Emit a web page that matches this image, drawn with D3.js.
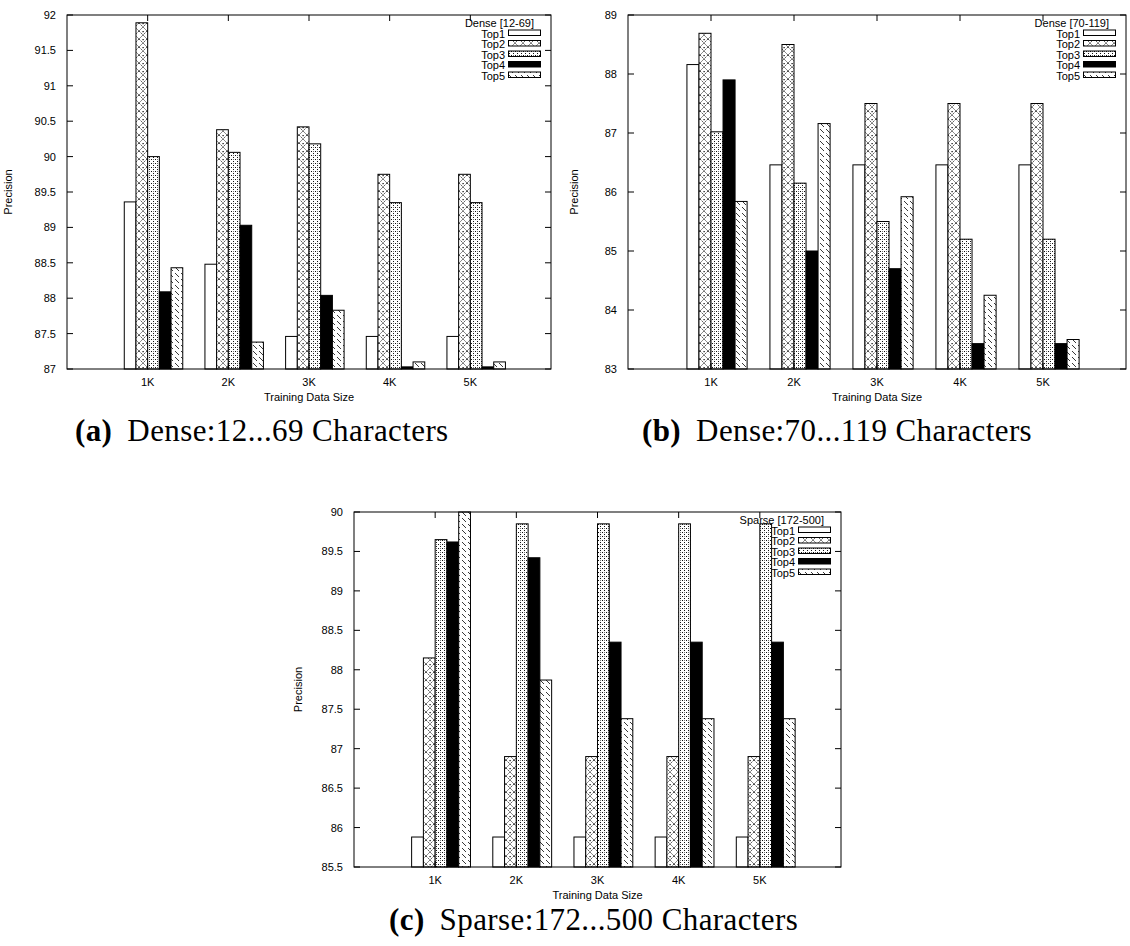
<!DOCTYPE html>
<html>
<head>
<meta charset="utf-8">
<script src="https://cdn.jsdelivr.net/npm/d3@7"></script>
<style>
  body { margin: 0; background: #fff; }
  svg text { font-family: "Liberation Sans", Arial, sans-serif; }
  .cap { font-family: "Liberation Serif", "DejaVu Serif", serif !important; }
</style>
</head>
<body>
<svg id="fig" width="1130" height="946"></svg>
<script>
var categories = ["1K", "2K", "3K", "4K", "5K"];
var seriesNames = ["Top1", "Top2", "Top3", "Top4", "Top5"];

// rows = Top1..Top5, columns = 1K..5K
var denseSmall = [
	[89.36, 88.48, 87.46, 87.46, 87.46],
	[91.89, 90.38, 90.42, 89.75, 89.75],
	[90.00, 90.06, 90.18, 89.35, 89.35],
	[88.09, 89.03, 88.04, 87.03, 87.03],
	[88.43, 87.38, 87.83, 87.10, 87.10]
];
var denseLarge = [
	[88.16, 86.46, 86.46, 86.46, 86.46],
	[88.69, 88.50, 87.50, 87.50, 87.50],
	[87.02, 86.15, 85.50, 85.20, 85.20],
	[87.90, 85.00, 84.70, 83.43, 83.43],
	[85.84, 87.16, 85.92, 84.25, 83.50]
];
var sparse = [
	[85.88, 85.88, 85.88, 85.88, 85.88],
	[88.15, 86.90, 86.90, 86.90, 86.90],
	[89.65, 89.85, 89.85, 89.85, 89.85],
	[89.62, 89.42, 88.35, 88.35, 88.35],
	[90.00, 87.87, 87.38, 87.38, 87.38]
];
var ticksA = [87, 87.5, 88, 88.5, 89, 89.5, 90, 90.5, 91, 91.5, 92];
var ticksB = [83, 84, 85, 86, 87, 88, 89];
var ticksC = [85.5, 86, 86.5, 87, 87.5, 88, 88.5, 89, 89.5, 90];

var svg = d3.select("#fig");
var defs = svg.append("defs");

// fill patterns, one per series
var p2 = defs.append("pattern").attr("id", "pat1").attr("patternUnits", "userSpaceOnUse")
	.attr("width", 8).attr("height", 8);
p2.append("rect").attr("width", 8).attr("height", 8).attr("fill", "#fff");
p2.append("path").attr("d", "M0,0L8,8M8,0L0,8").attr("stroke", "#222").attr("stroke-width", 0.8)
	.attr("stroke-dasharray", "2,1");
p2.append("rect").attr("x", 3.5).attr("y", 0).attr("width", 1.2).attr("height", 1.2).attr("fill", "#000");

var p3 = defs.append("pattern").attr("id", "pat2").attr("patternUnits", "userSpaceOnUse")
	.attr("width", 4).attr("height", 4);
p3.append("rect").attr("width", 4).attr("height", 4).attr("fill", "#fff");
p3.append("rect").attr("x", 0).attr("y", 0).attr("width", 1).attr("height", 1).attr("fill", "#111");
p3.append("rect").attr("x", 2).attr("y", 2).attr("width", 1).attr("height", 1).attr("fill", "#111");
p3.append("rect").attr("x", 2).attr("y", 0).attr("width", 1).attr("height", 1).attr("fill", "#777");

var p5 = defs.append("pattern").attr("id", "pat4").attr("patternUnits", "userSpaceOnUse")
	.attr("width", 6).attr("height", 6);
p5.append("rect").attr("width", 6).attr("height", 6).attr("fill", "#fff");
p5.append("path").attr("d", "M0,0L4,4").attr("stroke", "#222").attr("stroke-width", 0.9);

var fills = ["#fff", "url(#pat1)", "url(#pat2)", "#000", "url(#pat4)"];

function drawPanel(o) {
	var g = svg.append("g").attr("transform", "translate(" + o.left + "," + o.top + ")");
	var w = o.right - o.left, h = o.bottom - o.top;

	var x = d3.scaleLinear().domain([0, categories.length + 1]).range([0, w]);
	var y = d3.scaleLinear().domain([o.ticks[0], o.ticks[o.ticks.length - 1]]).range([h, 0]);
	var bw = (x(1) - x(0)) * 0.145;

	// legend goes first, bars are painted over it (as in the sparse plot)
	var lg = g.append("g").attr("transform", "translate(" + w + ",0)");
	lg.append("text").attr("x", -17).attr("y", 12).attr("text-anchor", "end")
		.attr("font-size", 11).text(o.title);
	seriesNames.forEach(function (s, i) {
		var yy = 22.5 + i * 10.5;
		lg.append("text").attr("x", -46).attr("y", yy).attr("text-anchor", "end")
			.attr("font-size", 11).text(s);
		lg.append("rect").attr("x", -42.5).attr("y", yy - 7.5).attr("width", 32).attr("height", 5.5)
			.attr("fill", fills[i]).attr("stroke", "#000").attr("stroke-width", 1);
	});

	o.data.forEach(function (vals, si) {
		g.selectAll(".b" + si).data(vals).enter().append("rect")
			.attr("x", function (d, ci) { return x(ci + 1) + (si - 2) * bw; })
			.attr("y", function (d) { return y(d); })
			.attr("width", bw)
			.attr("height", function (d) { return h - y(d); })
			.attr("fill", fills[si])
			.attr("stroke", "#000").attr("stroke-width", 1);
	});

	// frame and mirrored inward ticks
	g.append("rect").attr("width", w).attr("height", h).attr("fill", "none")
		.attr("stroke", "#000").attr("stroke-width", 1);
	o.ticks.forEach(function (t) {
		g.append("line").attr("x1", 0).attr("x2", 6).attr("y1", y(t)).attr("y2", y(t)).attr("stroke", "#000");
		g.append("line").attr("x1", w - 6).attr("x2", w).attr("y1", y(t)).attr("y2", y(t)).attr("stroke", "#000");
		g.append("text").attr("x", -11).attr("y", y(t) + 4).attr("text-anchor", "end")
			.attr("font-size", 11).text(t);
	});
	categories.forEach(function (c, ci) {
		var xx = x(ci + 1);
		g.append("line").attr("x1", xx).attr("x2", xx).attr("y1", h).attr("y2", h - 6).attr("stroke", "#000");
		g.append("line").attr("x1", xx).attr("x2", xx).attr("y1", 0).attr("y2", 6).attr("stroke", "#000");
		g.append("text").attr("x", xx).attr("y", h + 17).attr("text-anchor", "middle")
			.attr("font-size", 11).text(c);
	});

	g.append("text").attr("x", w / 2).attr("y", h + 32).attr("text-anchor", "middle")
		.attr("font-size", 11).text("Training Data Size");
	g.append("text").attr("transform", "translate(" + o.ylabX + "," + (h / 2) + ") rotate(-90)")
		.attr("text-anchor", "middle").attr("font-size", 11).text("Precision");

	var cap = svg.append("text").attr("class", "cap").attr("x", o.capX).attr("y", o.capY)
		.attr("font-size", 31).attr("letter-spacing", 0.4);
	cap.append("tspan").attr("font-weight", "bold").text(o.capTag);
	cap.append("tspan").attr("dx", 15).text(o.capText);
}

drawPanel({ left: 67, right: 551, top: 15, bottom: 369, data: denseSmall, ticks: ticksA,
	title: "Dense [12-69]", ylabX: -55, capX: 75, capY: 441, capTag: "(a)", capText: "Dense:12...69 Characters" });
drawPanel({ left: 628, right: 1126, top: 15, bottom: 369, data: denseLarge, ticks: ticksB,
	title: "Dense [70-119]", ylabX: -50, capX: 642, capY: 441, capTag: "(b)", capText: "Dense:70...119 Characters" });
drawPanel({ left: 354, right: 841, top: 512, bottom: 867, data: sparse, ticks: ticksC,
	title: "Sparse [172-500]", ylabX: -52, capX: 389, capY: 930, capTag: "(c)", capText: "Sparse:172...500 Characters" });
</script>
</body>
</html>
